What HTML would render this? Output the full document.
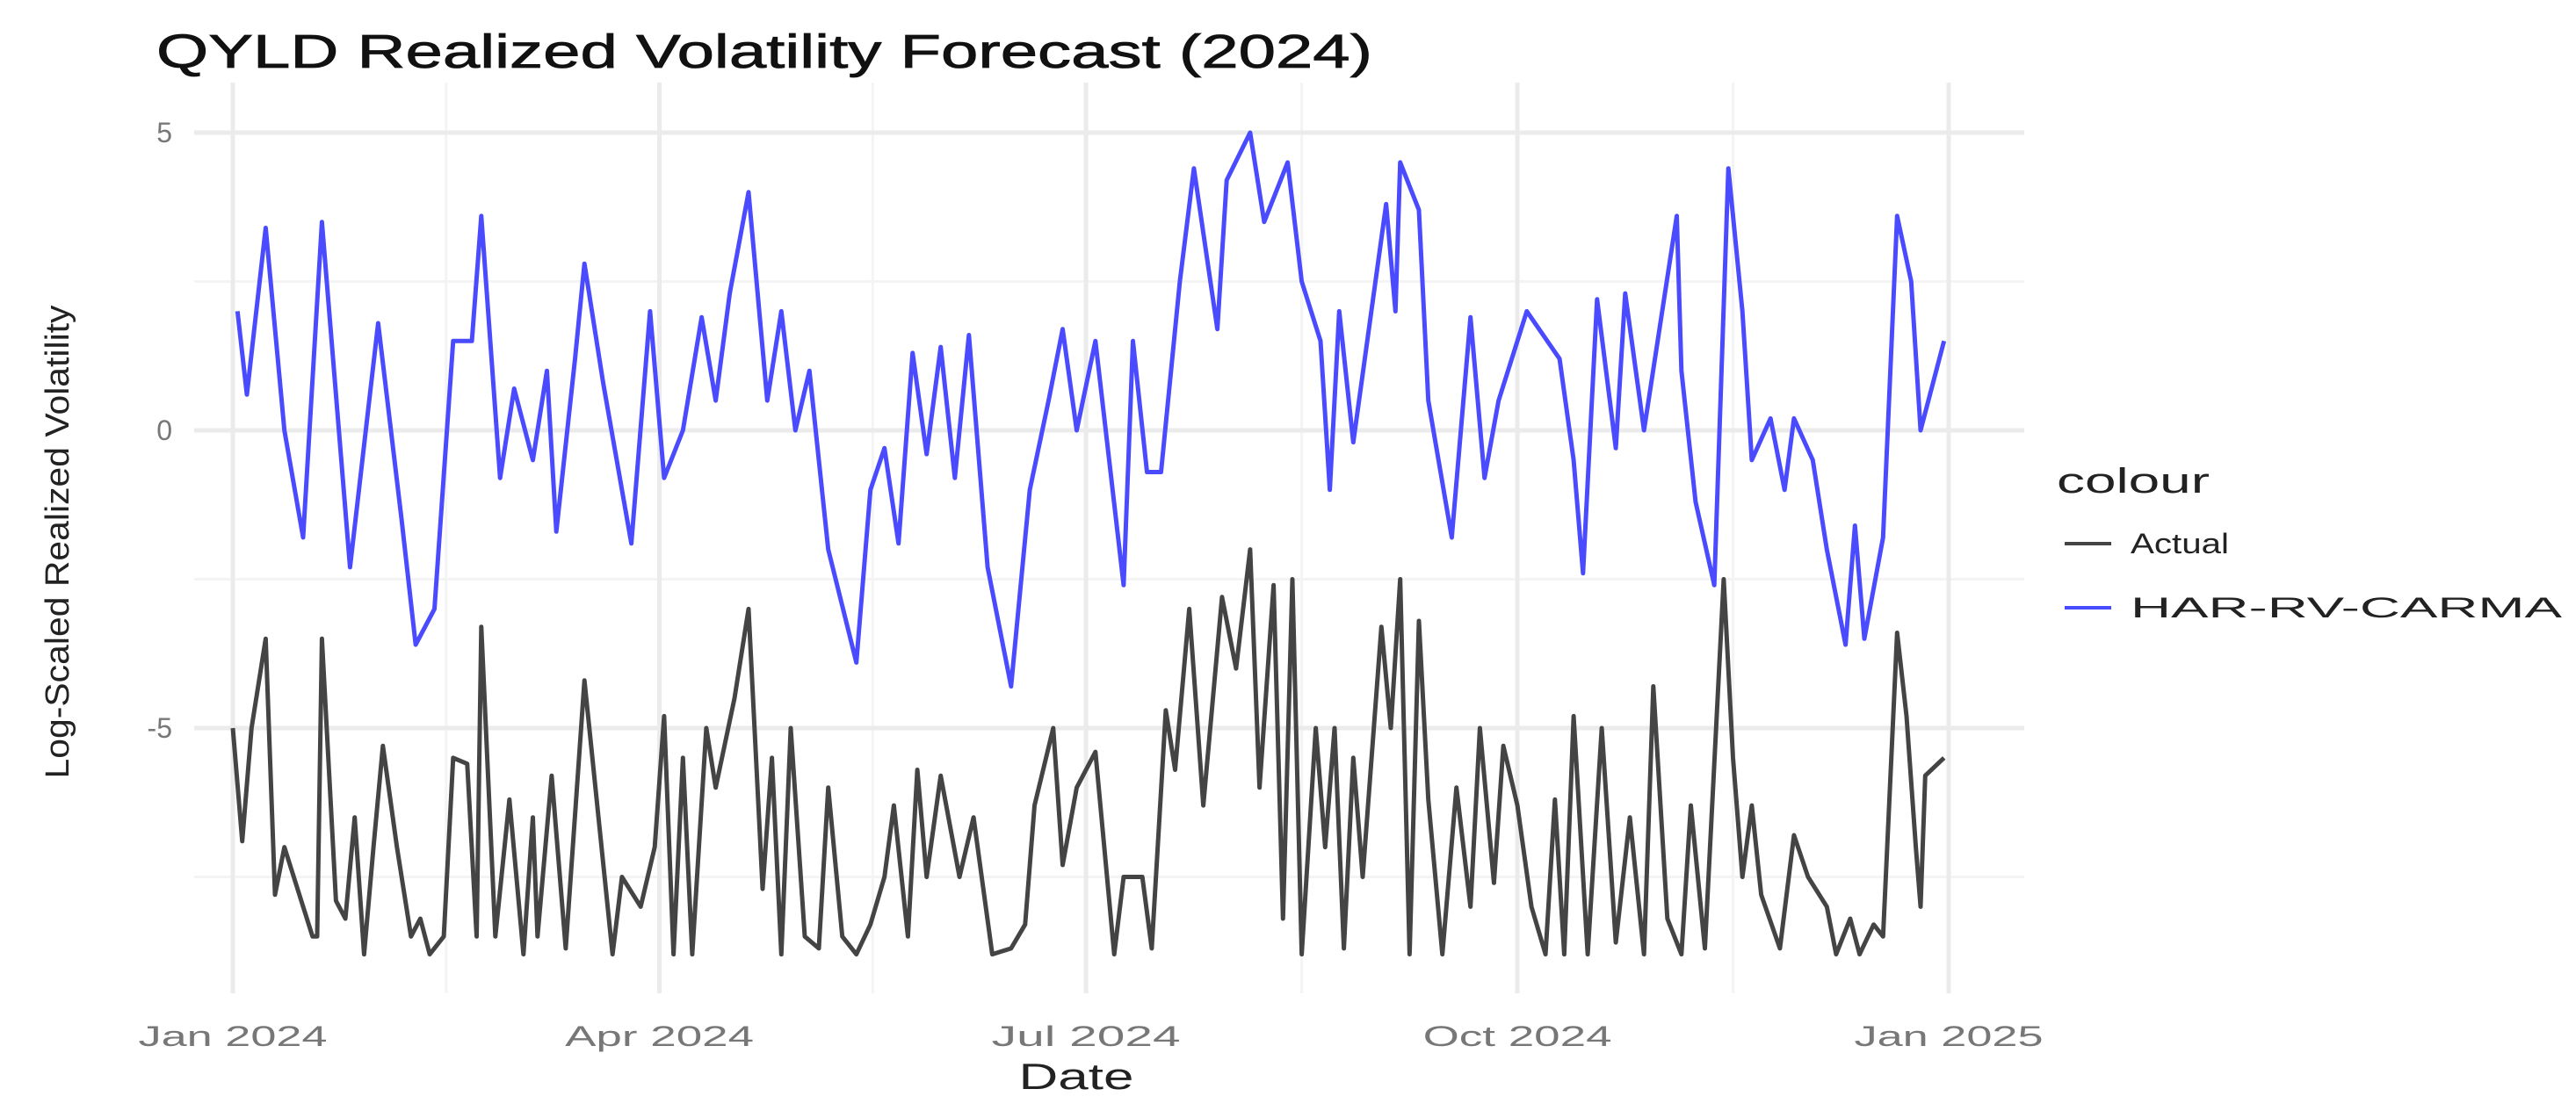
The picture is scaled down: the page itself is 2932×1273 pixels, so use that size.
<!DOCTYPE html>
<html><head><meta charset="utf-8"><title>QYLD Realized Volatility Forecast</title>
<style>html,body{margin:0;padding:0;background:#fff;}svg{display:block;font-family:"Liberation Sans",sans-serif;}</style></head>
<body>
<svg id="chart" width="2932" height="1273" viewBox="0 0 2932 1273" xmlns="http://www.w3.org/2000/svg">
<rect width="2932" height="1273" fill="#fff"/>
<g id="grid"></g>
<g id="series"></g>
<g id="axes"></g>
<text x="178" y="77" font-size="54" fill="#111" stroke="#111" stroke-width="0.8" textLength="1384" lengthAdjust="spacingAndGlyphs">QYLD Realized Volatility Forecast (2024)</text>
<text x="1225" y="1240" font-size="42" fill="#222" text-anchor="middle" textLength="131" lengthAdjust="spacingAndGlyphs">Date</text>
<text transform="translate(78,617) rotate(-90)" font-size="38" fill="#222" text-anchor="middle" textLength="539" lengthAdjust="spacingAndGlyphs">Log-Scaled Realized Volatility</text>
<g>
<text x="2341" y="561" font-size="40" fill="#222" textLength="174" lengthAdjust="spacingAndGlyphs">colour</text>
<line x1="2350" y1="619" x2="2403" y2="619" stroke="#444" stroke-width="4"/>
<text x="2425" y="630" font-size="32" fill="#222" textLength="112" lengthAdjust="spacingAndGlyphs">Actual</text>
<line x1="2350" y1="692" x2="2403" y2="692" stroke="#4a4aff" stroke-width="4"/>
<text x="2425" y="703" font-size="32" fill="#222" textLength="491" lengthAdjust="spacingAndGlyphs">HAR-RV-CARMA</text>
</g>
</svg>
<script>
const days = [1,2,3,4,5,8,10,12,16,18,19,20,23,25,26,27,29,31,32,33,36,37,39,40,41,43,44,46,48,51,52,53,54,57,58,60,61,63,65,66,68,69,70,72,74,76,79,80,82,84,86,88,90,91,93,95,97,99,101,102,104,107,108,111,114,115,116,118,120,121,123,124,126,128,131,134,137,140,142,143,145,146,147,149,152,155,156,158,159,162,163,167,170,171,172,175,176,178,181,185,189,191,193,195,196,197,199,200,202,203,205,206,208,211,212,213,215,218,220,221,223,225,226,227,229,232,233,234,235,236,237,238,240,242,246,247,248,249,250,252,254,256,259,261,262,265,267,268,270,271,272,275,277,278,281,283,284,285,287,289,290,292,293,296,298,299,302,304,307,309,310,312,313,315,317,319,320,321,323,325,327,329,331,332,334,337,338,341,343,345,346,347,348,349,351,353,356,358,359,360,361,362,366];
const harPts = [[2,2],[4,0.6],[8,3.4],[12,0],[16,-1.8],[20,3.5],[26,-2.3],[32,1.8],[37,-1.5],[40,-3.6],[44,-3],[48,1.5],[52,1.5],[54,3.6],[58,-0.8],[61,0.7],[65,-0.5],[68,1],[70,-1.7],[74,1.2],[76,2.8],[80,0.8],[86,-1.9],[90,2],[93,-0.8],[97,0],[101,1.9],[104,0.5],[107,2.3],[111,4],[115,0.5],[118,2],[121,0],[124,1],[128,-2],[134,-3.9],[137,-1],[140,-0.3],[143,-1.9],[146,1.3],[149,-0.4],[152,1.4],[155,-0.8],[158,1.6],[162,-2.3],[167,-4.3],[171,-1],[175,0.5],[178,1.7],[181,0],[185,1.5],[191,-2.6],[193,1.5],[196,-0.7],[199,-0.7],[203,2.5],[206,4.4],[211,1.7],[213,4.2],[218,5],[221,3.5],[226,4.5],[229,2.5],[233,1.5],[235,-1],[237,2],[240,-0.2],[247,3.8],[249,2],[250,4.5],[254,3.7],[256,0.5],[261,-1.8],[265,1.9],[268,-0.8],[271,0.5],[277,2],[284,1.2],[287,-0.5],[289,-2.4],[292,2.2],[296,-0.3],[298,2.3],[302,0],[309,3.6],[310,1],[313,-1.2],[317,-2.6],[320,4.4],[323,2],[325,-0.5],[329,0.2],[332,-1],[334,0.2],[338,-0.5],[341,-2],[345,-3.6],[347,-1.6],[349,-3.5],[353,-1.8],[356,3.6],[359,2.5],[361,0],[366,1.5]];
const harDays = harPts.map(p => p[0]);
const harValues = harPts.map(p => p[1]);
const actualDays = [1,3,5,8,10,12,18,19,20,23,25,27,29,31,33,36,39,41,43,46,48,51,53,54,57,60,63,65,66,69,72,76,79,82,84,88,91,93,95,97,99,102,104,108,111,114,116,118,120,123,126,128,131,134,137,140,142,145,147,149,152,156,159,163,167,170,172,176,178,181,185,189,191,195,197,200,202,205,208,212,215,218,220,223,225,227,229,232,234,236,238,240,242,246,248,250,252,254,256,259,262,265,267,270,272,275,278,281,283,285,287,290,293,296,299,302,304,307,310,312,315,319,321,323,325,327,331,334,337,341,343,346,348,351,353,356,358,360,361,362,366];
const actualValues = [-5,-6.9,-5,-3.5,-7.8,-7,-8.5,-8.5,-3.5,-7.9,-8.2,-6.5,-8.8,-7,-5.3,-7,-8.5,-8.2,-8.8,-8.5,-5.5,-5.6,-8.5,-3.3,-8.5,-6.2,-8.8,-6.5,-8.5,-5.8,-8.7,-4.2,-6.5,-8.8,-7.5,-8,-7,-4.8,-8.8,-5.5,-8.8,-5,-6,-4.5,-3,-7.7,-5.5,-8.8,-5,-8.5,-8.7,-6,-8.5,-8.8,-8.3,-7.5,-6.3,-8.5,-5.7,-7.5,-5.8,-7.5,-6.5,-8.8,-8.7,-8.3,-6.3,-5,-7.3,-6,-5.4,-8.8,-7.5,-7.5,-8.7,-4.7,-5.7,-3,-6.3,-2.8,-4,-2,-6,-2.6,-8.2,-2.5,-8.8,-5,-7,-5,-8.7,-5.5,-7.5,-3.3,-5,-2.5,-8.8,-3.2,-6.2,-8.8,-6,-8,-5,-7.6,-5.3,-6.3,-8,-8.8,-6.2,-8.8,-4.8,-8.8,-5,-8.6,-6.5,-8.8,-4.3,-8.2,-8.8,-6.3,-8.7,-2.5,-5.5,-7.5,-6.3,-7.8,-8.7,-6.8,-7.5,-8,-8.8,-8.2,-8.8,-8.3,-8.5,-3.4,-4.8,-7,-8,-5.8,-5.5];
const yTicks = [5, 0, -5];
const yMinor = [2.5, -2.5, -7.5];
const xTickDays = [1, 92, 183, 275, 367];
const xTickLabels = ["Jan 2024", "Apr 2024", "Jul 2024", "Oct 2024", "Jan 2025"];

const NS = "http://www.w3.org/2000/svg";
const PX0 = 221, PX1 = 2304, PY0 = 94, PY1 = 1131;
const xScale = d => 265 + (d - 1) * (2218 - 265) / 366;
const yScale = v => 490 - v * 67.8;
function mk(tag, attrs, parent) {
  const e = document.createElementNS(NS, tag);
  for (const k in attrs) e.setAttribute(k, attrs[k]);
  parent.appendChild(e);
  return e;
}
const grid = document.getElementById('grid');
const axes = document.getElementById('axes');
const series = document.getElementById('series');
yMinor.forEach(v => {
  const l = mk('line', {x1: PX0, x2: PX1, y1: yScale(v), y2: yScale(v), stroke: '#f4f4f4', 'stroke-width': 3}, grid);
  
  
});
for (let i = 0; i < xTickDays.length - 1; i++) {
  const m = (xTickDays[i] + xTickDays[i + 1]) / 2;
  const l = mk('line', {x1: xScale(m), x2: xScale(m), y1: PY0, y2: PY1, stroke: '#f4f4f4', 'stroke-width': 3}, grid);
  
  
}
yTicks.forEach(v => {
  const l = mk('line', {x1: PX0, x2: PX1, y1: yScale(v), y2: yScale(v), stroke: '#ebebeb', 'stroke-width': 5}, grid);
  
  
  const t = mk('text', {x: 196, y: yScale(v) + 11, 'font-size': 32, fill: '#777', 'text-anchor': 'end'}, axes);
  t.textContent = v === 0 ? '0' : (v < 0 ? '-' + Math.abs(v) : String(v));
  
  
});
xTickDays.forEach((d, i) => {
  const l = mk('line', {x1: xScale(d), x2: xScale(d), y1: PY0, y2: PY1, stroke: '#ebebeb', 'stroke-width': 5}, grid);
  
  
  const t = mk('text', {x: xScale(d), y: 1191, 'font-size': 32, fill: '#777', 'text-anchor': 'middle', textLength: 215, lengthAdjust: 'spacingAndGlyphs'}, axes);
  t.textContent = xTickLabels[i];
  
  
});
function path(ds, vs) {
  return ds.map((d, i) => (i ? 'L' : 'M') + xScale(d).toFixed(1) + ',' + yScale(vs[i]).toFixed(1)).join(' ');
}
const pa = mk('path', {d: path(actualDays, actualValues), fill: 'none', stroke: '#444', 'stroke-width': 5, 'stroke-linejoin': 'round'}, series);


const ph = mk('path', {d: path(harDays, harValues), fill: 'none', stroke: '#4a4aff', 'stroke-width': 5, 'stroke-linejoin': 'round'}, series);


</script>
</body></html>
